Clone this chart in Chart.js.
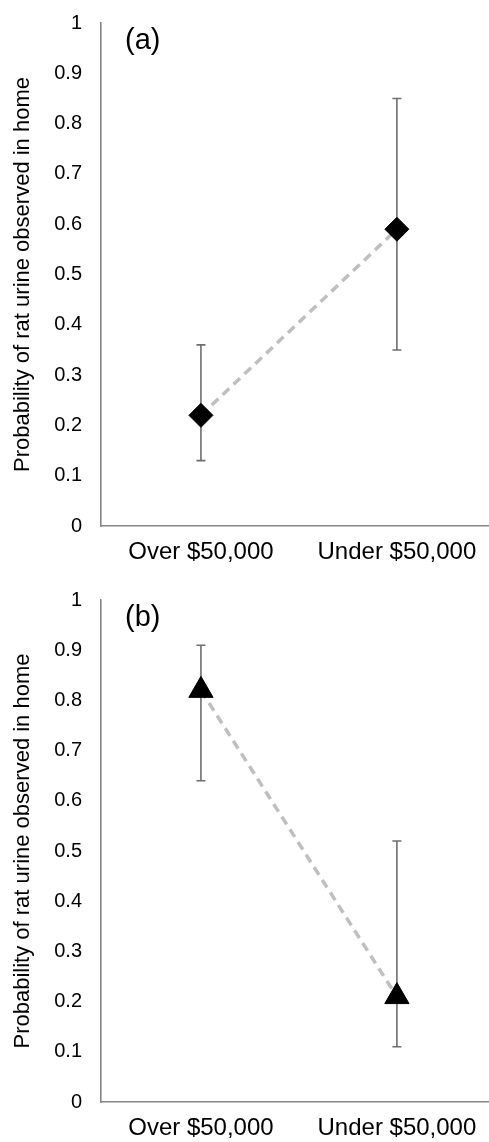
<!DOCTYPE html>
<html>
<head>
<meta charset="utf-8">
<script src="https://cdn.jsdelivr.net/npm/chart.js@4.4.1/dist/chart.umd.min.js"></script>
<style>
  html, body { margin: 0; padding: 0; background: #fff; }
  .panel { position: absolute; left: 0; width: 489px; height: 571px; }
  canvas { display: block; }
</style>
</head>
<body>
<div class="panel" style="top:0"><canvas id="ca" width="489" height="571"></canvas></div>
<div class="panel" style="top:571px"><canvas id="cb" width="489" height="571"></canvas></div>
<script>
// ---- Data ----
const categories = ["Over $50,000", "Under $50,000"];
const yTicks = [0, 0.1, 0.2, 0.3, 0.4, 0.5, 0.6, 0.7, 0.8, 0.9, 1];
const yTitle = "Probability of rat urine observed in home";

const panelALabel = "(a)";
const panelAValues = [0.22, 0.59];
const panelALower = [0.13, 0.35];
const panelAUpper = [0.36, 0.85];

const panelBLabel = "(b)";
const panelBValues = [0.82, 0.21];
const panelBLower = [0.64, 0.11];
const panelBUpper = [0.91, 0.52];

const FONT = "'Liberation Sans', Arial, sans-serif";

const errorBarPlugin = {
  id: 'errorBars',
  beforeDatasetsDraw(chart, args, opts) {
    const ctx = chart.ctx;
    const xs = chart.scales.x, ys = chart.scales.y;
    ctx.save();
    ctx.strokeStyle = '#6e6e6e';
    ctx.lineWidth = 1.6;
    opts.lower.forEach((lo, i) => {
      const x = xs.getPixelForValue(i);
      const yl = ys.getPixelForValue(lo);
      const yu = ys.getPixelForValue(opts.upper[i]);
      ctx.beginPath();
      ctx.moveTo(x, yl); ctx.lineTo(x, yu);
      ctx.moveTo(x - 4.5, yl); ctx.lineTo(x + 4.5, yl);
      ctx.moveTo(x - 4.5, yu); ctx.lineTo(x + 4.5, yu);
      ctx.stroke();
    });
    ctx.restore();
  }
};

const panelLabelPlugin = {
  id: 'panelLabel',
  afterDraw(chart, args, opts) {
    const ctx = chart.ctx;
    ctx.save();
    ctx.fillStyle = '#000';
    ctx.font = "29px " + FONT;
    ctx.textBaseline = 'alphabetic';
    ctx.textAlign = 'left';
    ctx.fillText(opts.text, chart.chartArea.left + opts.dx, chart.chartArea.top + opts.dy);
    ctx.restore();
  }
};

function makeChart(id, label, values, lower, upper, pointStyle, radius, topPad, xHeight) {
  return new Chart(document.getElementById(id), {
    type: 'line',
    data: {
      datasets: [{
        data: values.map((v, i) => ({ x: i, y: v })),
        borderColor: '#bfbfbf',
        borderWidth: 3.5,
        borderDash: [9, 6],
        pointStyle: pointStyle,
        pointRadius: radius,
        pointHoverRadius: radius,
        pointBackgroundColor: '#000',
        pointBorderColor: '#000',
        pointBorderWidth: 1,
        fill: false,
        tension: 0,
        clip: false
      }]
    },
    options: {
      responsive: false,
      animation: false,
      events: [],
      layout: { autoPadding: false, padding: { top: topPad, left: 0, right: 0, bottom: 0 } },
      plugins: {
        legend: { display: false },
        tooltip: { enabled: false },
        errorBars: { lower: lower, upper: upper },
        panelLabel: { text: label, dx: 24, dy: 26 }
      },
      scales: {
        x: {
          type: 'linear',
          position: 'bottom',
          min: -0.51,
          max: 1.47,
          afterBuildTicks: (scale) => { scale.ticks = categories.map((c, i) => ({ value: i })); },
          afterFit: (scale) => { scale.height = xHeight; scale.paddingLeft = 0; scale.paddingRight = 0; },
          grid: { display: false, drawTicks: true, tickLength: 12 },
          border: { display: true, color: '#858585', width: 1.6 },
          ticks: {
            padding: 0,
            color: '#000',
            font: { family: FONT, size: 24 },
            maxRotation: 0,
            autoSkip: false,
            callback: (v) => categories[v] !== undefined ? categories[v] : ''
          }
        },
        y: {
          min: 0,
          max: 1,
          afterBuildTicks: (scale) => { scale.ticks = yTicks.map(v => ({ value: v })); },
          afterFit: (scale) => { scale.width = 101; },
          grid: { display: false, drawTicks: true, tickLength: 19 },
          border: { display: true, color: '#858585', width: 1.6 },
          title: {
            display: true,
            text: yTitle,
            color: '#000',
            font: { family: FONT, size: 22 },
            padding: { top: 10, bottom: 0 }
          },
          ticks: {
            padding: 0,
            color: '#000',
            font: { family: FONT, size: 20 },
            callback: (v) => String(Math.round(v * 10) / 10)
          }
        }
      }
    },
    plugins: [errorBarPlugin, panelLabelPlugin]
  });
}

makeChart('ca', panelALabel, panelAValues, panelALower, panelAUpper, 'rectRot', 12, 23, 45);
makeChart('cb', panelBLabel, panelBValues, panelBLower, panelBUpper, 'triangle', 14, 29, 40);
</script>
</body>
</html>
